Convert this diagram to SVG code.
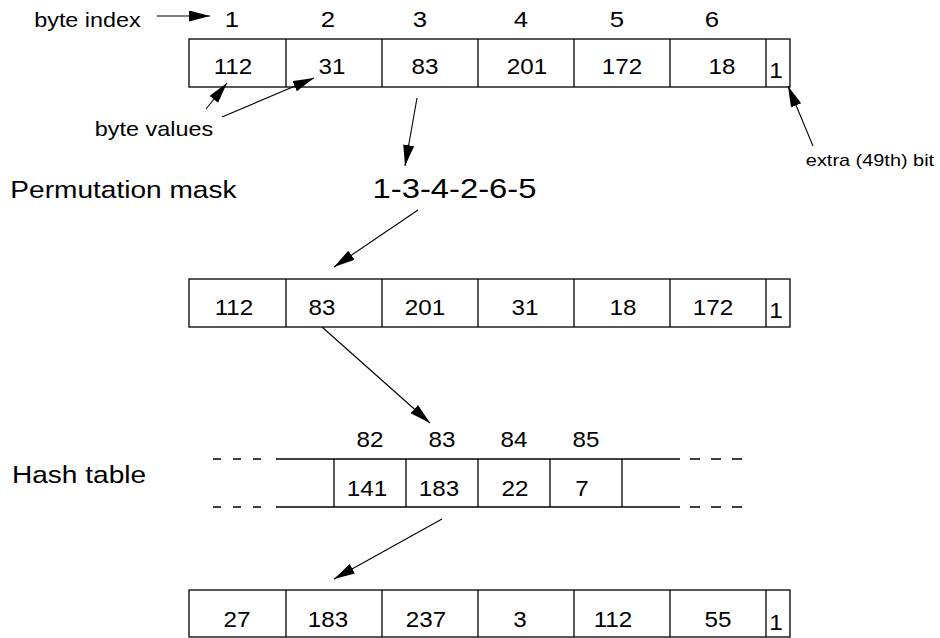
<svg xmlns="http://www.w3.org/2000/svg" width="940" height="638" viewBox="0 0 940 638">
  <style>
    text { font-family: "Liberation Sans", Arial, Helvetica, sans-serif; fill: #000; text-anchor: middle;
           transform-box: fill-box; transform-origin: center; transform: scaleX(1.17); }
    .v { font-size: 22px; transform: scaleX(1.1); }
    .idx { font-size: 22px; }
    .lbl { font-size: 20px; }
    .big { font-size: 24px; }
    .mask { font-size: 28px; }
    .box { fill: #fff; stroke: #000; stroke-width: 1.3; }
    .div { stroke: #000; stroke-width: 1.3; }
    .conn line { stroke: #000; stroke-width: 1.1; marker-end: url(#ah); }
  </style>
  <defs>
    <marker id="ah" markerUnits="userSpaceOnUse" markerWidth="22" markerHeight="12" refX="21" refY="5.5" orient="auto">
      <path d="M0,0 L21,5.5 L0,11 z" fill="#000"/>
    </marker>
  </defs>
  <rect width="940" height="638" fill="#fff"/>

  <!-- labels -->
  <g id="label-byte-index"><text class="lbl" x="87.5" y="27">byte index</text></g>
  <g id="label-byte-values"><text class="lbl" x="154" y="136">byte values</text></g>
  <g id="label-extra-bit"><text class="lbl" x="870" y="166" style="font-size:17px">extra (49th) bit</text></g>
  <g id="label-permutation"><text class="big" x="123.5" y="198">Permutation mask</text></g>
  <g id="label-hash"><text class="big" x="79" y="483">Hash table</text></g>

  <!-- byte indices above the input key -->
  <g id="byte-indices">
    <text class="idx" x="232" y="27">1</text>
    <text class="idx" x="328" y="27">2</text>
    <text class="idx" x="420" y="27">3</text>
    <text class="idx" x="521" y="27">4</text>
    <text class="idx" x="617" y="27">5</text>
    <text class="idx" x="712" y="27">6</text>
  </g>

  <!-- input key: six bytes plus one extra bit -->
  <g id="key-input">
    <rect class="box" x="189" y="39" width="601" height="48"/>
    <line class="div" x1="286" y1="39" x2="286" y2="87"/>
    <line class="div" x1="382" y1="39" x2="382" y2="87"/>
    <line class="div" x1="478" y1="39" x2="478" y2="87"/>
    <line class="div" x1="574" y1="39" x2="574" y2="87"/>
    <line class="div" x1="670" y1="39" x2="670" y2="87"/>
    <line class="div" x1="766" y1="39" x2="766" y2="87"/>
    <text class="v" x="233" y="74">112</text>
    <text class="v" x="332" y="74">31</text>
    <text class="v" x="425" y="74">83</text>
    <text class="v" x="527" y="74">201</text>
    <text class="v" x="622" y="74">172</text>
    <text class="v" x="722" y="74">18</text>
    <text class="v" x="776" y="78">1</text>
  </g>

  <!-- permutation mask -->
  <g id="perm-mask"><text class="mask" x="454.5" y="198">1-3-4-2-6-5</text></g>

  <!-- permuted key -->
  <g id="key-permuted">
    <rect class="box" x="189" y="279" width="601" height="48"/>
    <line class="div" x1="286" y1="279" x2="286" y2="327"/>
    <line class="div" x1="382" y1="279" x2="382" y2="327"/>
    <line class="div" x1="478" y1="279" x2="478" y2="327"/>
    <line class="div" x1="574" y1="279" x2="574" y2="327"/>
    <line class="div" x1="670" y1="279" x2="670" y2="327"/>
    <line class="div" x1="766" y1="279" x2="766" y2="327"/>
    <text class="v" x="234" y="315">112</text>
    <text class="v" x="322" y="315">83</text>
    <text class="v" x="425" y="315">201</text>
    <text class="v" x="525" y="315">31</text>
    <text class="v" x="623" y="315">18</text>
    <text class="v" x="713" y="315">172</text>
    <text class="v" x="776" y="318">1</text>
  </g>

  <!-- hash table slice 82..85 -->
  <g id="hash-table">
    <text class="v" x="370" y="447">82</text>
    <text class="v" x="442" y="447">83</text>
    <text class="v" x="514" y="447">84</text>
    <text class="v" x="586" y="447">85</text>
    <line class="div" x1="276" y1="459" x2="680" y2="459"/>
    <line class="div" x1="276" y1="507" x2="680" y2="507"/>
    <line class="div" x1="213" y1="459" x2="273" y2="459" stroke-dasharray="8 12"/>
    <line class="div" x1="213" y1="507" x2="273" y2="507" stroke-dasharray="8 12"/>
    <line class="div" x1="690" y1="459" x2="742" y2="459" stroke-dasharray="10 11"/>
    <line class="div" x1="690" y1="507" x2="742" y2="507" stroke-dasharray="10 11"/>
    <line class="div" x1="334" y1="459" x2="334" y2="507"/>
    <line class="div" x1="406" y1="459" x2="406" y2="507"/>
    <line class="div" x1="478" y1="459" x2="478" y2="507"/>
    <line class="div" x1="550" y1="459" x2="550" y2="507"/>
    <line class="div" x1="622" y1="459" x2="622" y2="507"/>
    <text class="v" x="367" y="496">141</text>
    <text class="v" x="439" y="496">183</text>
    <text class="v" x="515" y="496">22</text>
    <text class="v" x="582" y="496">7</text>
  </g>

  <!-- output key -->
  <g id="key-output">
    <rect class="box" x="189" y="590" width="601" height="47"/>
    <line class="div" x1="286" y1="590" x2="286" y2="637"/>
    <line class="div" x1="382" y1="590" x2="382" y2="637"/>
    <line class="div" x1="478" y1="590" x2="478" y2="637"/>
    <line class="div" x1="574" y1="590" x2="574" y2="637"/>
    <line class="div" x1="670" y1="590" x2="670" y2="637"/>
    <line class="div" x1="766" y1="590" x2="766" y2="637"/>
    <text class="v" x="237" y="627">27</text>
    <text class="v" x="328" y="627">183</text>
    <text class="v" x="426" y="627">237</text>
    <text class="v" x="520" y="627">3</text>
    <text class="v" x="613" y="627">112</text>
    <text class="v" x="718" y="627">55</text>
    <text class="v" x="776" y="630">1</text>
  </g>

  <!-- connectors -->
  <g id="connectors" class="conn">
    <line x1="157" y1="16" x2="210" y2="16"/>
    <line x1="206" y1="109" x2="227" y2="83"/>
    <line x1="222" y1="117" x2="314" y2="78"/>
    <line x1="417" y1="98" x2="405" y2="166"/>
    <line x1="813" y1="146" x2="788" y2="86"/>
    <line x1="418" y1="210" x2="334" y2="267"/>
    <line x1="322" y1="327" x2="430" y2="423"/>
    <line x1="442" y1="519" x2="334" y2="579"/>
  </g>
</svg>
